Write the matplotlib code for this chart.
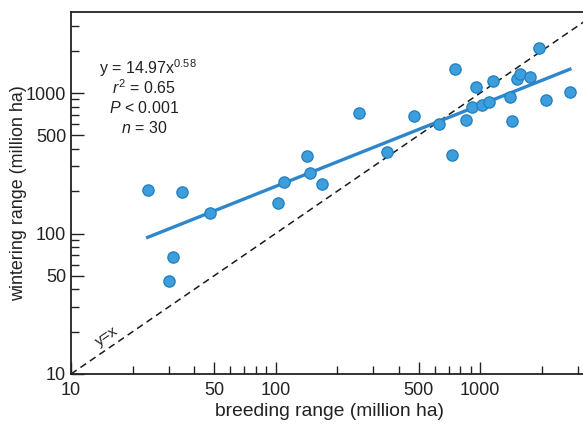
import numpy as np
import matplotlib
matplotlib.use("Agg")
import matplotlib.pyplot as plt
from matplotlib.ticker import FixedLocator, NullFormatter, FixedFormatter

plt.rcParams['font.family'] = ['Liberation Sans', 'DejaVu Sans']
plt.rcParams['mathtext.fontset'] = 'custom'
plt.rcParams['mathtext.rm'] = 'Liberation Sans'
plt.rcParams['mathtext.it'] = 'Liberation Sans:italic'

# breeding range (million ha)
breeding = [23.7, 34.8, 47.9, 110, 103, 31.6, 30.1,
            143, 148, 169, 255, 349, 474, 631, 728, 750, 853, 916,
            952, 1019, 1107, 1159, 1400, 1432, 1521, 1569, 1759, 1933, 2089, 2742]
# wintering range (million ha)
wintering = [203, 197, 139, 234, 164, 67.8, 45.7,
             354, 268, 225, 716, 380, 689, 601, 360, 1490, 643, 800,
             1109, 817, 867, 1225, 931, 632, 1259, 1365, 1306, 2080, 887, 1021]

coef_a = 14.97
coef_b = 0.58
tick_vals = [10, 50, 100, 500, 1000]
tick_labels = ['10', '50', '100', '500', '1000']

fig = plt.figure(figsize=(5.83, 4.24), dpi=100)
ax = fig.add_axes([71/583, 1 - 374/424, 1 - 71/583 + 0.01, (374 - 12)/424])
ax.set_xscale('log')
ax.set_yscale('log')
xmax = 10 ** (1 + 512/203)
ymax = 10 ** (1 + 362/140.5)
ax.set_xlim(10, xmax * 1.02)
ax.set_ylim(10, ymax)

# y = x line
xs = np.array([10, xmax * 1.1])
ax.plot(xs, xs, ls=(0, (4.5, 3)), color='#1a1a1a', lw=1.1, zorder=1)

# regression line
bx = np.array(breeding)
fx = np.logspace(np.log10(bx.min()), np.log10(bx.max()), 50)
ax.plot(fx, coef_a * fx ** coef_b, color='#2e86cc', lw=2.4, zorder=2)

ax.scatter(breeding, wintering, s=66, facecolor='#3d9edb', edgecolor='#1f7fc1',
           linewidth=0.9, zorder=3, clip_on=False)

tc = '#222222'
fig.text(148/583, 1 - 68/424, 'y = 14.97x$^{0.58}$', fontsize=11.5, ha='center', va='center', color=tc)
fig.text(144/583, 1 - 88/424, '$r^2$ = 0.65', fontsize=11.5, ha='center', va='center', color=tc)
fig.text(144/583, 1 - 108/424, '$P$ < 0.001', fontsize=11.5, ha='center', va='center', color=tc)
fig.text(144/583, 1 - 128/424, '$n$ = 30', fontsize=11.5, ha='center', va='center', color=tc)

ax.text(15.0, 18.6, 'y=x', rotation=34.7, rotation_mode='anchor', fontsize=11, ha='center', va='center',
        color=tc)

for axis in (ax.xaxis, ax.yaxis):
    axis.set_major_locator(FixedLocator(tick_vals))
    axis.set_major_formatter(FixedFormatter(tick_labels))
    axis.set_minor_formatter(NullFormatter())
ax.tick_params(which='both', direction='in', labelsize=13, colors=tc)
ax.tick_params(which='major', length=9, width=1)
ax.tick_params(which='minor', length=6, width=1)
ax.tick_params(axis='x', pad=6)

ax.spines['right'].set_visible(False)
for sp in ['left', 'bottom', 'top']:
    ax.spines[sp].set_linewidth(1.3)
    ax.spines[sp].set_color(tc)

ax.set_xlabel('breeding range (million ha)', fontsize=13.9, color=tc, labelpad=3)
ax.set_ylabel('wintering range (million ha)', fontsize=12.9, color=tc, labelpad=-1)

fig.savefig('out.png', dpi=100)
